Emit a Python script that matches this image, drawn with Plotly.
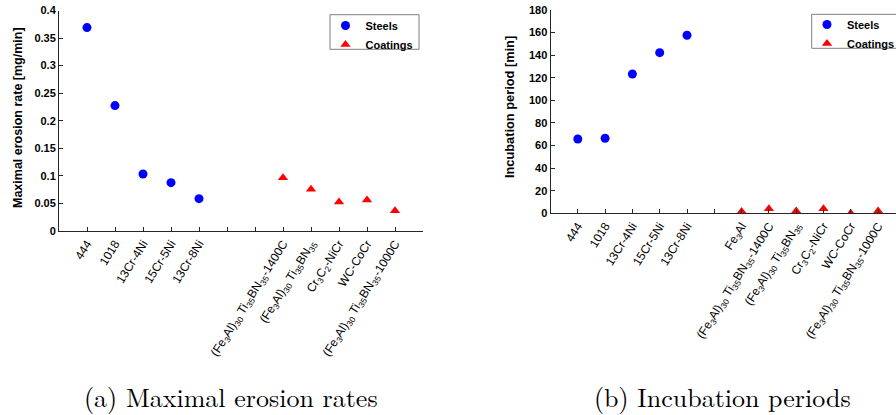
import plotly.graph_objects as go

# ---- data ----
cats_a = ["444", "1018", "13Cr-4Ni", "15Cr-5Ni", "13Cr-8Ni", "", "",
          "(Fe<sub>3</sub>Al)<sub>30</sub> Ti<sub>35</sub>BN<sub>35</sub>-1400C",
          "(Fe<sub>3</sub>Al)<sub>30</sub> Ti<sub>35</sub>BN<sub>35</sub>",
          "Cr<sub>3</sub>C<sub>2</sub>-NiCr", "WC-CoCr",
          "(Fe<sub>3</sub>Al)<sub>30</sub> Ti<sub>35</sub>BN<sub>35</sub>-1000C"]
steels_a_idx = [0, 1, 2, 3, 4]
steels_a = [0.369, 0.2275, 0.1035, 0.0877, 0.0587]
coat_a_idx = [7, 8, 9, 10, 11]
coat_a = [0.0968, 0.0756, 0.0526, 0.0563, 0.0369]

cats_b = ["444", "1018", "13Cr-4Ni", "15Cr-5Ni", "13Cr-8Ni", "",
          "Fe<sub>3</sub>Al",
          "(Fe<sub>3</sub>Al)<sub>30</sub> Ti<sub>35</sub>BN<sub>35</sub>-1400C",
          "(Fe<sub>3</sub>Al)<sub>30</sub> Ti<sub>35</sub>BN<sub>35</sub>",
          "Cr<sub>3</sub>C<sub>2</sub>-NiCr", "WC-CoCr",
          "(Fe<sub>3</sub>Al)<sub>30</sub> Ti<sub>35</sub>BN<sub>35</sub>-1000C"]
steels_b_idx = [0, 1, 2, 3, 4]
steels_b = [65.8, 66.4, 123.3, 142.2, 157.6]
coat_b_idx = [6, 7, 8, 9, 10, 11]
coat_b = [1.5, 4.0, 2.0, 4.0, 0.0, 2.0]

ytitle_a = "Maximal erosion rate [mg/min]"
ytitle_b = "Incubation period [min]"
caption_a = "(a) Maximal erosion rates"
caption_b = "(b) Incubation periods"

BLUE = "#0000FF"
RED = "#FF0000"
AX = "#262626"
SANS = "Arial, Liberation Sans, sans-serif"
SERIF = "Latin Modern Roman, DejaVu Serif, serif"

fig = go.Figure()

fig.add_trace(go.Scatter(x=[i + 1 for i in steels_a_idx], y=steels_a, mode="markers",
                         name="Steels", marker=dict(symbol="circle", size=9, color=BLUE),
                         xaxis="x", yaxis="y", legend="legend"))
fig.add_trace(go.Scatter(x=[i + 1 for i in coat_a_idx], y=coat_a, mode="markers",
                         name="Coatings", marker=dict(symbol="triangle-up", size=9, color=RED),
                         xaxis="x", yaxis="y", legend="legend"))
fig.add_trace(go.Scatter(x=[i + 1 for i in steels_b_idx], y=steels_b, mode="markers",
                         name="Steels", marker=dict(symbol="circle", size=9, color=BLUE),
                         xaxis="x2", yaxis="y2", legend="legend2"))
fig.add_trace(go.Scatter(x=[i + 1 for i in coat_b_idx], y=coat_b, mode="markers",
                         name="Coatings", marker=dict(symbol="triangle-up", size=9, color=RED),
                         xaxis="x2", yaxis="y2", legend="legend2"))

W, H = 896, 415

def px_x(p):
    return p / W

def px_y(p):
    return 1 - p / H

common_x = dict(showgrid=False, zeroline=False, showline=True, linecolor=AX, linewidth=1,
                ticks="inside", ticklen=4, tickcolor=AX, tickangle=-58,
                tickfont=dict(family=SANS, size=12, color="#000"), automargin=False,
                fixedrange=True)
common_y = dict(showgrid=False, zeroline=False, showline=True, linecolor=AX, linewidth=1,
                ticks="inside", ticklen=4, tickcolor=AX,
                tickfont=dict(family=SANS, size=11, color="#000", weight="bold"),
                automargin=False, fixedrange=True)

legend_font = dict(family=SANS, size=11, color="#000", weight="bold")

fig.update_layout(
    width=W, height=H,
    margin=dict(l=0, r=0, t=0, b=0, autoexpand=False),
    paper_bgcolor="white", plot_bgcolor="white",
    showlegend=True,
    xaxis=dict(common_x, domain=[px_x(59), px_x(423)], range=[0, 13],
               tickmode="array", tickvals=list(range(1, len(cats_a) + 1)), ticktext=cats_a,
               anchor="y"),
    yaxis=dict(common_y, domain=[px_y(231), px_y(10.5)], range=[0, 0.4], dtick=0.05,
               tick0=0, anchor="x"),
    xaxis2=dict(common_x, domain=[px_x(550.5), 1.0], range=[0, (896 - 550.5) / 27.3],
                tickmode="array", tickvals=list(range(1, len(cats_b) + 1)), ticktext=cats_b,
                anchor="y2"),
    yaxis2=dict(common_y, domain=[px_y(213.3), px_y(10)], range=[0, 180], dtick=20,
                tick0=0, anchor="x2"),
    legend=dict(x=px_x(325.5), y=px_y(11.0), xanchor="left", yanchor="top",
                bgcolor="rgba(0,0,0,0)", borderwidth=0,
                font=legend_font, itemwidth=30, tracegroupgap=0),
    legend2=dict(x=px_x(807), y=px_y(10.0), xanchor="left", yanchor="top",
                 bgcolor="rgba(0,0,0,0)", borderwidth=0,
                 font=legend_font, itemwidth=30, tracegroupgap=0),
    shapes=[
        dict(type="rect", xref="paper", yref="paper", layer="above",
             x0=px_x(330), x1=px_x(419), y0=px_y(49.3), y1=px_y(14.7),
             line=dict(color="#7f7f7f", width=1), fillcolor="white"),
        dict(type="rect", xref="paper", yref="paper", layer="above",
             x0=px_x(811.7), x1=px_x(910), y0=px_y(48.3), y1=px_y(14.3),
             line=dict(color="#7f7f7f", width=1), fillcolor="white"),
    ],
    annotations=[
        dict(text=ytitle_a, x=px_x(18), y=px_y(118), xref="paper", yref="paper",
             textangle=-90, showarrow=False, xanchor="center", yanchor="middle",
             font=dict(family=SANS, size=12.5, color="#000", weight="bold")),
        dict(text=ytitle_b, x=px_x(510), y=px_y(107), xref="paper", yref="paper",
             textangle=-90, showarrow=False, xanchor="center", yanchor="middle",
             font=dict(family=SANS, size=12.8, color="#000", weight="bold")),
        dict(text=caption_a, x=px_x(231), y=px_y(396), xref="paper", yref="paper",
             showarrow=False, xanchor="center", yanchor="middle",
             font=dict(family=SERIF, size=26, color="#000")),
        dict(text=caption_b, x=px_x(722), y=px_y(396), xref="paper", yref="paper",
             showarrow=False, xanchor="center", yanchor="middle",
             font=dict(family=SERIF, size=26, color="#000")),
    ],
)

fig.write_html("out.html")
